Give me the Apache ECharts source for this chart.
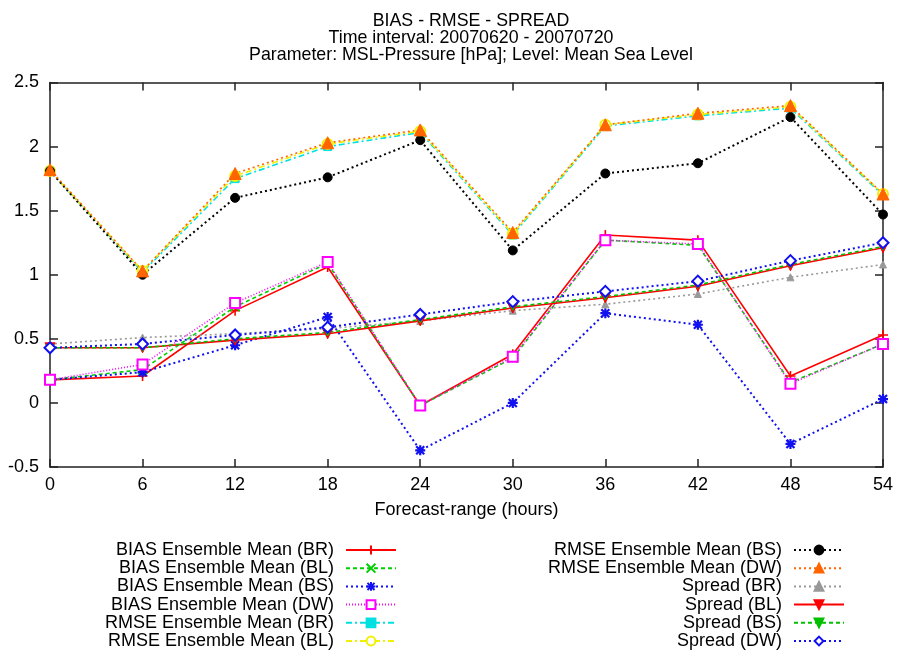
<!DOCTYPE html>
<html>
<head>
<meta charset="utf-8">
<script src="https://cdn.jsdelivr.net/npm/echarts@6/dist/echarts.min.js"></script>
<style>html,body{margin:0;padding:0;background:#fff}#c{width:899px;height:652px}</style>
</head>
<body>
<div id="c"></div>
<script>
// ---- data ----
const hours = [0, 6, 12, 18, 24, 30, 36, 42, 48, 54];
const titleLines = ['BIAS - RMSE - SPREAD', 'Time interval: 20070620 - 20070720', 'Parameter: MSL-Pressure [hPa]; Level: Mean Sea Level'];
const xAxisTitle = 'Forecast-range (hours)';
const seriesNames = [
  'BIAS Ensemble Mean (BR)', 'BIAS Ensemble Mean (BL)', 'BIAS Ensemble Mean (BS)', 'BIAS Ensemble Mean (DW)',
  'RMSE Ensemble Mean (BR)', 'RMSE Ensemble Mean (BL)', 'RMSE Ensemble Mean (BS)', 'RMSE Ensemble Mean (DW)',
  'Spread (BR)', 'Spread (BL)', 'Spread (BS)', 'Spread (DW)'
];
const biasBR = [0.18, 0.21, 0.72, 1.06, -0.02, 0.38, 1.31, 1.27, 0.21, 0.53];
const biasBL = [0.18, 0.26, 0.75, 1.09, -0.02, 0.35, 1.27, 1.23, 0.16, 0.46];
const biasBS = [0.18, 0.24, 0.45, 0.67, -0.37, 0.00, 0.70, 0.61, -0.32, 0.03];
const biasDW = [0.18, 0.30, 0.78, 1.10, -0.02, 0.36, 1.27, 1.24, 0.15, 0.46];
const rmseBR = [1.81, 1.02, 1.75, 2.00, 2.11, 1.31, 2.16, 2.24, 2.30, 1.62];
const rmseBL = [1.81, 1.03, 1.77, 2.02, 2.12, 1.32, 2.17, 2.25, 2.31, 1.63];
const rmseBS = [1.81, 1.00, 1.60, 1.76, 2.05, 1.19, 1.79, 1.87, 2.23, 1.47];
const rmseDW = [1.82, 1.03, 1.79, 2.03, 2.13, 1.33, 2.17, 2.26, 2.32, 1.63];
const spreadBR = [0.46, 0.51, 0.54, 0.58, 0.64, 0.72, 0.77, 0.85, 0.98, 1.08];
const spreadBL = [0.43, 0.43, 0.49, 0.54, 0.64, 0.74, 0.82, 0.91, 1.07, 1.21];
const spreadBS = [0.43, 0.43, 0.50, 0.55, 0.65, 0.75, 0.83, 0.92, 1.08, 1.22];
const spreadDW = [0.43, 0.46, 0.53, 0.59, 0.69, 0.79, 0.87, 0.95, 1.11, 1.25];
const seriesValues = [biasBR, biasBL, biasBS, biasDW, rmseBR, rmseBL, rmseBS, rmseDW, spreadBR, spreadBL, spreadBS, spreadDW];

// ---- styles ----
const PLUS = 'path://M5,0V10M0,5H10';
const CROSS = 'path://M0,0L10,10M10,0L0,10';
const STAR = 'path://M5,0V10M0,5H10M1,1L9,9M9,1L1,9';
const DOWN = 'path://M0,0L10,0L5,9Z';
const styles = [
  {c: '#ff0000', t: 'solid', w: 1.6, s: PLUS, z: 10, bw: 1.6},
  {c: '#00d000', t: [4, 3], w: 1.6, s: CROSS, z: 9, bw: 1.6},
  {c: '#1010f0', t: [2, 3], w: 2, s: STAR, z: 10, bw: 2.2},
  {c: '#ff00ff', t: [1, 2], w: 1.6, s: 'emptyRect', z: 10, bw: 1.5},
  {c: '#00e0e0', t: [6, 3, 2, 3], w: 1.6, s: 'rect', z: 8, bw: 1},
  {c: '#f0f000', t: [6, 3, 2, 3], w: 1.6, s: 'emptyCircle', z: 10, bw: 1.5},
  {c: '#000000', t: [2, 3], w: 2, s: 'circle', z: 9, bw: 1},
  {c: '#ff6400', t: [2, 3], w: 1.6, s: 'triangle', z: 12, bw: 1},
  {c: '#999999', t: [2, 3], w: 1.6, s: 'triangle', z: 7, bw: 1},
  {c: '#ff0000', t: 'solid', w: 1.6, s: DOWN, z: 10, bw: 1},
  {c: '#00c000', t: [4, 3], w: 1.6, s: DOWN, z: 7, bw: 1},
  {c: '#1010f0', t: [2, 3], w: 2, s: 'emptyDiamond', z: 11, bw: 1.5}
];

const series = seriesNames.map((name, i) => {
  const st = styles[i];
  return {
    name: name,
    type: 'line',
    xAxisIndex: 0,
    yAxisIndex: 0,
    data: hours.map((h, j) => [h, seriesValues[i][j]]),
    symbol: st.s,
    symbolSize: st.z,
    showAllSymbol: true,
    lineStyle: {color: st.c, width: st.w, type: st.t},
    itemStyle: {color: st.c, borderColor: st.c, borderWidth: st.bw},
    emphasis: {disabled: true}
  };
});

const font = 'Liberation Sans, Arial, sans-serif';
const legendCommon = {
  orient: 'vertical',
  align: 'right',
  itemWidth: 50,
  itemHeight: 11,
  itemGap: 0.2,
  padding: 0,
  selectedMode: false,
  textStyle: {fontFamily: font, fontSize: 18, color: '#000', lineHeight: 18, padding: [0, 7, 0, 0]}
};

const axisLineStyle = {color: '#222', width: 1.5};
const option = {
  animation: false,
  backgroundColor: '#fff',
  title: {
    text: titleLines.join('\n'),
    left: 466,
    textAlign: 'center',
    top: 8,
    textStyle: {fontFamily: font, fontSize: 17.8, fontWeight: 'normal', color: '#000', lineHeight: 16.7}
  },
  legend: [
    Object.assign({}, legendCommon, {right: 502, top: 541, data: seriesNames.slice(0, 6)}),
    Object.assign({}, legendCommon, {right: 54, top: 541, data: seriesNames.slice(6)})
  ],
  grid: {left: 50, right: 16, top: 82.5, bottom: 185, containLabel: false},
  xAxis: [
    {
      type: 'value', min: 0, max: 54, interval: 6, position: 'bottom',
      name: xAxisTitle, nameLocation: 'middle', nameGap: 34,
      nameTextStyle: {fontFamily: font, fontSize: 18, color: '#000'},
      axisLine: {show: true, onZero: false, lineStyle: axisLineStyle},
      axisTick: {show: true, inside: true, length: 8, lineStyle: axisLineStyle},
      axisLabel: {fontFamily: font, fontSize: 18, color: '#000', margin: 9},
      splitLine: {show: false}
    },
    {
      type: 'value', min: 0, max: 54, interval: 6, position: 'top',
      axisLine: {show: true, onZero: false, lineStyle: axisLineStyle},
      axisTick: {show: true, inside: true, length: 8, lineStyle: axisLineStyle},
      axisLabel: {show: false},
      splitLine: {show: false}
    }
  ],
  yAxis: [
    {
      type: 'value', min: -0.5, max: 2.5, interval: 0.5, position: 'left',
      axisLine: {show: true, onZero: false, lineStyle: axisLineStyle},
      axisTick: {show: true, inside: true, length: 8, lineStyle: axisLineStyle},
      axisLabel: {fontFamily: font, fontSize: 18, color: '#000', margin: 11},
      splitLine: {show: false}
    },
    {
      type: 'value', min: -0.5, max: 2.5, interval: 0.5, position: 'right',
      axisLine: {show: true, onZero: false, lineStyle: axisLineStyle},
      axisTick: {show: true, inside: true, length: 8, lineStyle: axisLineStyle},
      axisLabel: {show: false},
      splitLine: {show: false}
    }
  ],
  series: series
};

const chart = echarts.init(document.getElementById('c'), null, {renderer: 'canvas'});
chart.setOption(option);
</script>
</body>
</html>
